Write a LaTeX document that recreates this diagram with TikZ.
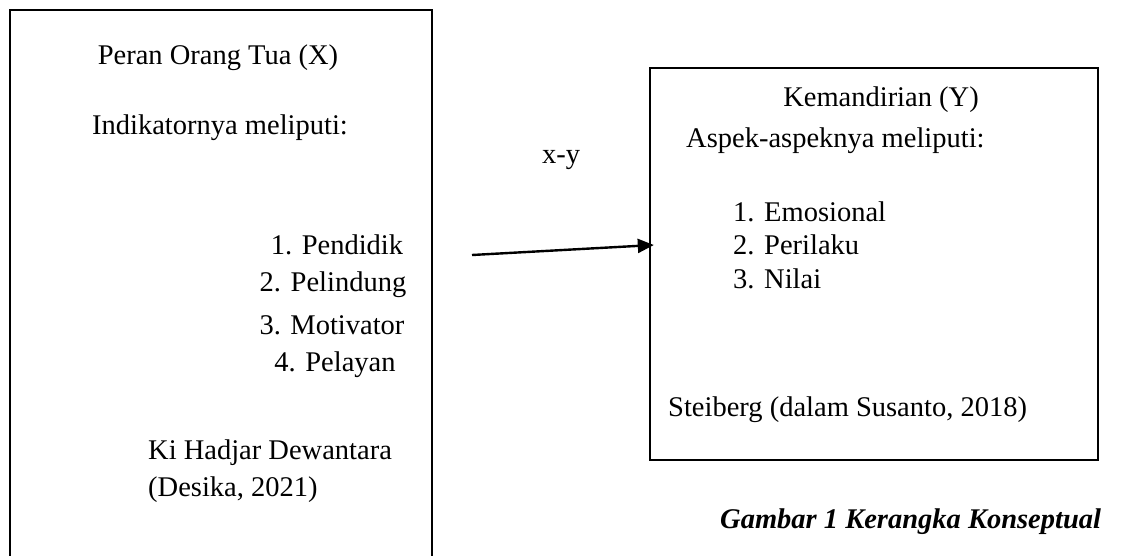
\documentclass[tikz,border=0pt]{standalone}
\usepackage{fontspec}
\setmainfont{Liberation Serif}
\usetikzlibrary{arrows.meta}
\tikzset{
  frame/.style={draw=black, line width=2.4pt, inner sep=0pt},
  txt/.style={inner sep=0pt, font=\fontsize{28.5}{34}\selectfont},
  lft/.style={txt, anchor=west},
  captiontxt/.style={inner sep=0pt, anchor=base west, font=\fontsize{28.5}{34}\selectfont\bfseries\itshape},
  conn/.style={line width=2.4pt, -{Triangle[length=16pt,width=14pt]}}
}
\newcommand{\numlab}[1]{\makebox[31pt][l]{#1}}
\begin{document}
\begin{tikzpicture}[x=1pt,y=-1pt]
\useasboundingbox (0,0) rectangle (1135,555);
\clip (0,0) rectangle (1135,555);
\fill[white] (0,0) rectangle (1135,555);
% boxes
\node[frame, minimum width=422pt, minimum height=600pt] (xbox) at (221,310) {};
\node[frame, minimum width=448pt, minimum height=392pt] (ybox) at (874,264) {};
% left texts
\node[txt] (xtitle) at (218,58) {Peran Orang Tua (X)};
\node[txt] (xind) at (220,128) {Indikatornya meliputi:};
\node[txt] (x1) at (337,245) {\numlab{1.}Pendidik};
\node[txt] (x2) at (333,285) {\numlab{2.}Pelindung};
\node[txt] (x3) at (332,325) {\numlab{3.}Motivator};
\node[txt] (x4) at (335,365) {\numlab{4.}Pelayan};
\node[lft] (xsrc1) at (148,453) {Ki Hadjar Dewantara};
\node[lft] (xsrc2) at (148,490) {(Desika, 2021)};
% right texts
\node[txt] (ytitle) at (881,100) {Kemandirian (Y)};
\node[lft] (yasp) at (686,141) {Aspek-aspeknya meliputi:};
\node[lft] (y1) at (733,212) {\numlab{1.}Emosional};
\node[lft] (y2) at (733,245) {\numlab{2.}Perilaku};
\node[lft] (y3) at (733,279) {\numlab{3.}Nilai};
\node[lft] (ysrc) at (668,410) {Steiberg (dalam Susanto, 2018)};
% connector
\coordinate (astart) at (472,255);
\draw[conn] (astart) -- ([xshift=5pt,yshift=19pt]ybox.west);
\node[txt] (xy) at (561,160) {x-y};
% caption
\node[captiontxt] (caption) at (720,528) {Gambar 1 Kerangka Konseptual};
\end{tikzpicture}
\end{document}
